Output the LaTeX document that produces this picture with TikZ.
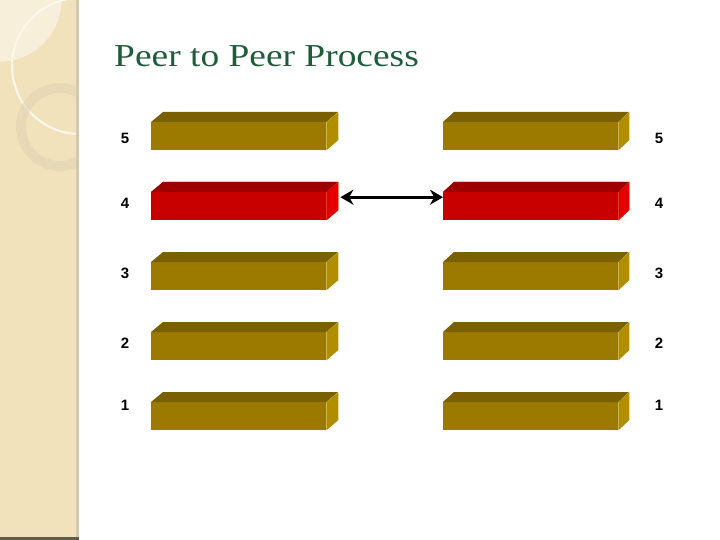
\documentclass[tikz,border=0pt]{standalone}
\usepackage{fontspec}
\setmainfont{Liberation Serif}
\setsansfont{Liberation Sans}
\usetikzlibrary{arrows.meta}
\definecolor{gold}{HTML}{9C7A00}
\definecolor{goldtop}{HTML}{7A6000}
\definecolor{goldside}{HTML}{B08E00}
\definecolor{redfront}{HTML}{C80000}
\definecolor{redtop}{HTML}{9E0000}
\definecolor{redside}{HTML}{E40000}
\definecolor{panel}{HTML}{F2E2BC}
\definecolor{titlegreen}{HTML}{1E5C3A}
\tikzset{
  font={\sffamily\bfseries\fontsize{15pt}{17}\selectfont},
  slab/.style={inner sep=0pt,minimum width=175pt,minimum height=28pt,anchor=north west}}

\begin{document}
\begin{tikzpicture}[x=1pt,y=-1pt]
\useasboundingbox (0,0) rectangle (720,540);
% side panel
\fill[panel] (0,0) rectangle (79,540);
\fill[white!45!panel] (0,0) -- (0,62) arc[start angle=90,end angle=0,radius=62] -- cycle;
\begin{scope}
\clip (0,0) rectangle (76,540);
\draw[panel!70!brown!60,line width=0.5pt] (0,62) arc[start angle=90,end angle=0,radius=62];
\draw[white!75!panel,line width=2pt] (80,66) circle[radius=68];
\draw[panel!85!gray,line width=10pt,opacity=0.6] (60,127) circle[radius=39];
\end{scope}
\fill[panel!75!gray] (76,0) rectangle (79,540);
\fill[panel!40!black] (0,537) rectangle (79,540);
% title
\node[font={\rmfamily\fontsize{32pt}{36}\selectfont\addfontfeatures{FakeStretch=1.17}},text=titlegreen,anchor=base west,inner sep=0pt] (title) at (114,67) {Peer to Peer Process};
% layers
\foreach \n/\y/\t in {5/122/138,4/192/203,3/262/273,2/332/343,1/402/405}{
  \node[slab,fill=gold] (L\n) at (151,\y) {};
  \node[slab,fill=gold] (R\n) at (443,\y) {};
  \fill[goldtop] (L\n.north west) -- ++(12,-10) -- ++(175,0) -- (L\n.north east) -- cycle;
  \fill[goldside] (L\n.north east) -- ++(12,-10) -- ++(0,28) -- (L\n.south east) -- cycle;
  \fill[goldtop] (R\n.north west) -- ++(11,-10) -- ++(175,0) -- (R\n.north east) -- cycle;
  \fill[goldside] (R\n.north east) -- ++(11,-10) -- ++(0,28) -- (R\n.south east) -- cycle;
  \node (l\n) at (125,\t) {\n};
  \node (r\n) at (659,\t) {\n};
}
% layer 4 in red
\fill[redfront] (L4.north west) rectangle (L4.south east);
\fill[redtop] (L4.north west) -- ++(12,-10) -- ++(175,0) -- (L4.north east) -- cycle;
\fill[redside] (L4.north east) -- ++(12,-10) -- ++(0,28) -- (L4.south east) -- cycle;
\fill[redfront] (R4.north west) rectangle (R4.south east);
\fill[redtop] (R4.north west) -- ++(11,-10) -- ++(175,0) -- (R4.north east) -- cycle;
\fill[redside] (R4.north east) -- ++(11,-10) -- ++(0,28) -- (R4.south east) -- cycle;
\draw[line width=3pt,{Stealth[length=13pt,width=15pt]}-{Stealth[length=13pt,width=15pt]}]
  ([shift={(14,-9)}]L4.east) -- ([shift={(0,-9)}]R4.west);
\end{tikzpicture}
\end{document}
